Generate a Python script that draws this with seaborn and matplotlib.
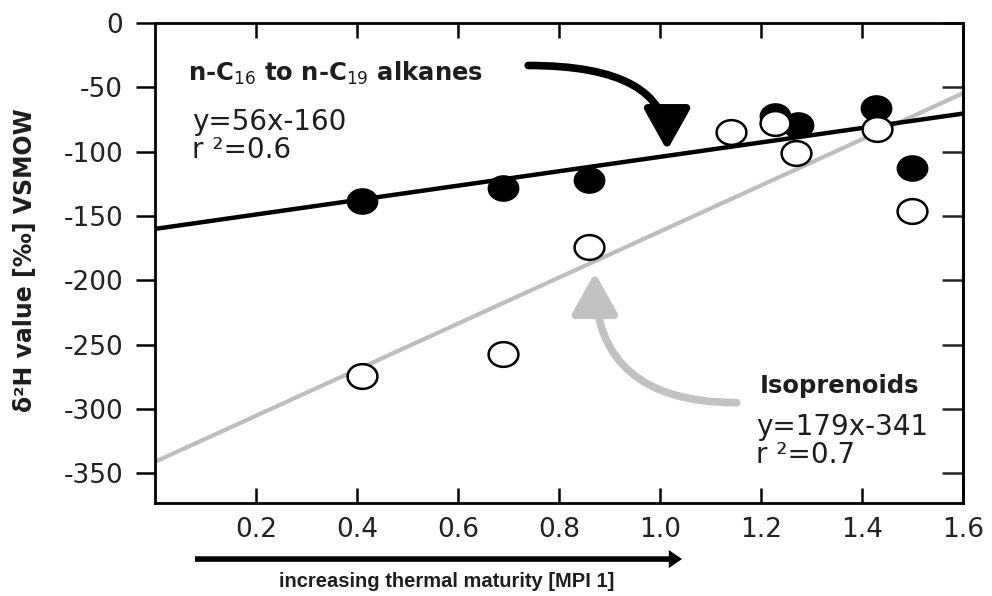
import numpy as np
import seaborn as sns
import matplotlib.pyplot as plt
from matplotlib.path import Path
from matplotlib.patches import FancyArrowPatch

# data
mpi_alk = [0.41, 0.69, 0.86, 1.228, 1.273, 1.428, 1.499]
dh_alk = [-138, -128, -122, -72, -79, -66, -113]
mpi_iso = [0.41, 0.69, 0.86, 1.14, 1.228, 1.27, 1.43, 1.499]
dh_iso = [-274, -257, -174, -85, -78, -101, -82, -146]

# regression lines as printed in the figure
fit_alk = (56, -160, 0.6)
fit_iso = (179, -341, 0.7)

x_ticks = [0.2, 0.4, 0.6, 0.8, 1.0, 1.2, 1.4, 1.6]
y_ticks = [0, -50, -100, -150, -200, -250, -300, -350]


def plot():
    sns.set_style("ticks")
    plt.rcParams["font.family"] = ["DejaVu Sans"]
    plt.rcParams["axes.unicode_minus"] = False

    fig = plt.figure(figsize=(9.92, 5.96), dpi=100)
    ax = fig.add_axes([0.1562, 0.156, 0.8146, 0.8054])

    # slightly wide ellipse marker like the reference
    t = np.linspace(0, 2 * np.pi, 60)
    ell = Path(np.column_stack([np.cos(t), 0.83 * np.sin(t)]), closed=True)

    xl = np.array([0, 1.6])
    sns.lineplot(ax=ax, x=xl, y=fit_iso[0] * xl + fit_iso[1], color="#bdbdbd",
                 lw=3, zorder=1)
    sns.lineplot(ax=ax, x=xl, y=fit_alk[0] * xl + fit_alk[1], color="black",
                 lw=3.2, zorder=2)

    sns.scatterplot(ax=ax, x=mpi_alk, y=dh_alk, marker=ell, s=480,
                    color="black", edgecolor="black", linewidth=1, zorder=3)
    sns.scatterplot(ax=ax, x=mpi_iso, y=dh_iso, marker=ell, s=460,
                    facecolor="white", edgecolor="black", linewidth=1.8, zorder=4)

    ax.set_xlim(0, 1.6)
    ax.set_ylim(-373, 0)
    ax.set_xticks(x_ticks)
    ax.set_xticklabels([f"{v:.1f}" for v in x_ticks])
    ax.set_yticks(y_ticks)
    ax.set_yticklabels([str(v) for v in y_ticks])
    ax.set_xlabel("")
    ax.set_ylabel("")

    for sp in ax.spines.values():
        sp.set_visible(True)
        sp.set_linewidth(2)
        sp.set_color("black")

    ax.tick_params(axis="x", direction="in", top=True, length=11, width=1.8,
                   labelsize=19, pad=10, colors="black", labelcolor="#222222")
    ax.tick_params(axis="y", direction="out", length=14, width=1.8,
                   labelsize=19, pad=9, colors="black", labelcolor="#222222")

    right = ax.secondary_yaxis("right")
    right.set_yticks(y_ticks)
    right.tick_params(direction="in", length=15, width=1.8, labelright=False)
    right.spines["right"].set_linewidth(2)

    txt = "#1e1e1e"
    ax.text(0.065, -39, r"n-C$_{16}$ to n-C$_{19}$ alkanes", fontsize=17.5,
            fontweight="bold", color=txt, va="center")
    ax.text(0.073, -77, f"y={fit_alk[0]}x{fit_alk[1]}", fontsize=20,
            color=txt, va="center")
    ax.text(0.073, -99, f"r ²={fit_alk[2]}", fontsize=20, color=txt, va="center")

    ax.text(1.198, -282, "Isoprenoids", fontsize=17.5, fontweight="bold",
            color=txt, va="center")
    ax.text(1.19, -314, f"y={fit_iso[0]}x{fit_iso[1]}", fontsize=20,
            color=txt, va="center")
    ax.text(1.19, -336, f"r ²={fit_iso[2]}", fontsize=20, color=txt, va="center")

    # curved pointer arrows
    style = "-|>,head_length=1.25,head_width=0.7"
    ax.add_patch(FancyArrowPatch((0.739, -33), (1.014, -99), arrowstyle=style,
                                 mutation_scale=20, color="black", lw=5.5,
                                 connectionstyle="angle3,angleA=0,angleB=90",
                                 shrinkA=0, shrinkB=0, zorder=5))
    ax.add_patch(FancyArrowPatch((1.152, -295), (0.871, -194), arrowstyle=style,
                                 mutation_scale=20, color="#c2c2c2", lw=5.5,
                                 connectionstyle="angle3,angleA=0,angleB=90",
                                 shrinkA=0, shrinkB=0, zorder=5))

    # axis titles and maturity arrow
    fig.text(25 / 992, 1 - 260 / 596, "δ²H value [‰] VSMOW", rotation=90,
             fontsize=17, fontweight="bold", color=txt, ha="center", va="center")
    fig.text(0.4506, 0.024, "increasing thermal maturity [MPI 1]",
             family=["Liberation Sans", "DejaVu Sans"], fontsize=14.5,
             fontweight="bold", color=txt, ha="center", va="center")
    fig.patches.append(FancyArrowPatch((0.1966, 0.062), (0.6875, 0.062),
                                       transform=fig.transFigure,
                                       arrowstyle="simple,head_width=1.3,head_length=0.95,tail_width=0.4",
                                       mutation_scale=10, color="black", lw=0,
                                       shrinkA=0, shrinkB=0))

    fig.savefig("out.png", dpi=100, facecolor="white")


if __name__ == '__main__':
    plot()
